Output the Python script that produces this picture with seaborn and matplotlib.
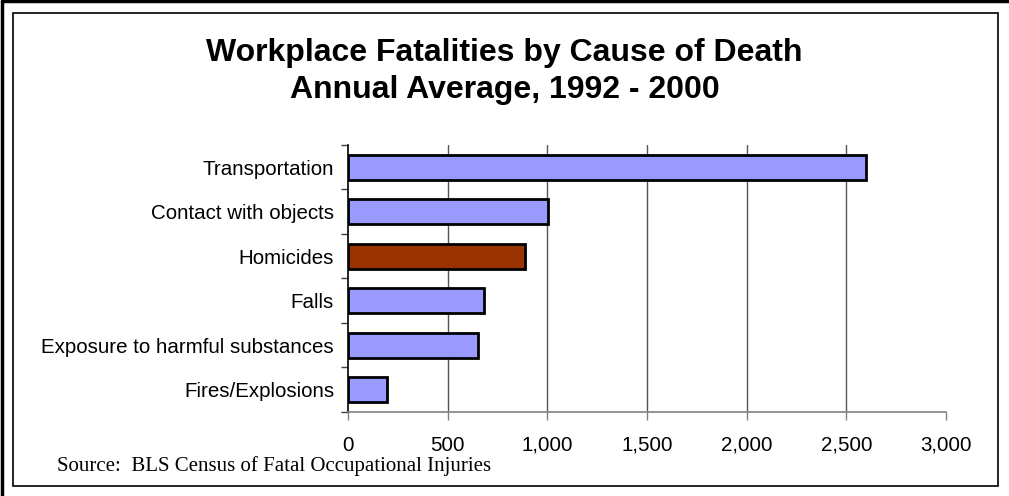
import matplotlib
matplotlib.use("Agg")
import matplotlib.pyplot as plt
from matplotlib.lines import Line2D
from matplotlib.patches import Rectangle
import seaborn as sns
import pandas as pd

# Data
causes = ["Transportation", "Contact with objects", "Homicides",
          "Falls", "Exposure to harmful substances", "Fires/Explosions"]
fatalities = [2600, 1005, 890, 680, 650, 195]
bar_colors = ["#9999FF", "#9999FF", "#993300", "#9999FF", "#9999FF", "#9999FF"]
x_ticks = [0, 500, 1000, 1500, 2000, 2500, 3000]

sns.set_style("white")
plt.rcParams["font.family"] = ["Liberation Sans", "DejaVu Sans"]
plt.rcParams["text.color"] = "black"
plt.rcParams["xtick.color"] = "black"
plt.rcParams["ytick.color"] = "black"

df = pd.DataFrame({"cause": causes, "fatalities": fatalities})
palette = dict(zip(causes, bar_colors))

fig = plt.figure(figsize=(10.09, 4.96), dpi=100)
ax = fig.add_axes([0.3449, 0.1694, 0.5927, 0.5383])

sns.barplot(data=df, x="fatalities", y="cause", hue="cause", palette=palette,
            order=causes, legend=False, width=0.56, edgecolor="black",
            linewidth=2, saturation=1, ax=ax, zorder=3)

ax.set_xlim(0, 3000)
ax.set_ylim(len(causes) - 0.5, -0.5)
ax.set_xticks(x_ticks)
ax.set_xticklabels([f"{v:,}" for v in x_ticks])
ax.set_xlabel("")
ax.set_ylabel("")

# vertical gridlines
for v in x_ticks[1:-1]:
    ax.axvline(v, color="#555555", linewidth=1, zorder=1)

for side in ["top", "right"]:
    ax.spines[side].set_visible(False)
ax.spines["left"].set_color("black")
ax.spines["left"].set_linewidth(1.2)
ax.spines["bottom"].set_color("#808080")
ax.spines["bottom"].set_linewidth(1.2)

# category boundary ticks on the y axis
ax.set_yticks([i - 0.5 for i in range(len(causes) + 1)], minor=True)
ax.tick_params(axis="y", which="major", left=True, length=0, pad=10, labelsize=14.8)
ax.tick_params(axis="y", which="minor", left=True, length=5, width=1,
               color="#404040", direction="out")
ax.tick_params(axis="x", which="major", bottom=True, length=6, width=1,
               color="#808080", labelcolor="black", direction="out", pad=11,
               labelsize=14.8)

fig.suptitle("Workplace Fatalities by Cause of Death\nAnnual Average, 1992 - 2000",
             x=0.5, y=0.855, va="center", fontsize=23, fontweight="bold",
             color="black", linespacing=1.3)

fig.text(0.0565, 0.05, "Source:  BLS Census of Fatal Occupational Injuries",
         family=["Liberation Serif", "DejaVu Serif"], fontsize=15, va="baseline")

# chart frames
fig.patches.append(Rectangle((13 / 1009, 1 - 486 / 496), (998 - 13) / 1009, (486 - 13) / 496,
                             transform=fig.transFigure, fill=False, edgecolor="black",
                             linewidth=1.2))
fig.lines.append(Line2D([0.002, 0.002], [0, 0.997], transform=fig.transFigure,
                        color="black", linewidth=2.5))
fig.lines.append(Line2D([0.002, 1], [0.997, 0.997], transform=fig.transFigure,
                        color="black", linewidth=2.5))

fig.savefig("out.png", dpi=100)
